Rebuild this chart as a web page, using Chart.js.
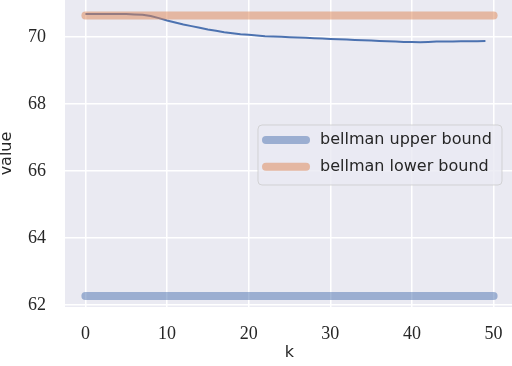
<!DOCTYPE html>
<html>
<head>
<meta charset="utf-8">
<script src="https://cdn.jsdelivr.net/npm/chart.js@4"></script>
<style>
  html, body { margin: 0; padding: 0; background: #fff; overflow: hidden; }
  #wrap { width: 514px; height: 366px; }
</style>
</head>
<body>
<div id="wrap"><canvas id="chart"></canvas></div>
<script>
// values
const kValues = [0, 1, 2, 3, 4, 5, 6, 7, 8, 9, 10, 11, 12, 13, 14, 15, 16, 17, 18, 19,
  20, 21, 22, 23, 24, 25, 26, 27, 28, 29, 30, 31, 32, 33, 34, 35, 36, 37, 38, 39,
  40, 41, 42, 43, 44, 45, 46, 47, 48, 49];
const valueCurve = [70.68, 70.68, 70.68, 70.68, 70.68, 70.68, 70.67, 70.66, 70.62, 70.56,
  70.49, 70.43, 70.37, 70.32, 70.27, 70.22, 70.18, 70.14, 70.11, 70.08,
  70.06, 70.04, 70.02, 70.01, 70.00, 69.99, 69.98, 69.97, 69.96, 69.95,
  69.94, 69.93, 69.92, 69.91, 69.90, 69.89, 69.88, 69.87, 69.86, 69.85,
  69.85, 69.84, 69.85, 69.86, 69.86, 69.86, 69.87, 69.87, 69.87, 69.88];
const boundK = [0, 50];
const upperBound = 62.27;
const lowerBound = 70.64;
const boundLabels = ['bellman upper bound', 'bellman lower bound'];
const xTicks = [0, 10, 20, 30, 40, 50];
const yTicks = [62, 64, 66, 68, 70];

const BLUE = '#4C72B0';
const BLUE_BAND = 'rgba(76,114,176,0.5)';
const ORANGE_BAND = 'rgba(221,132,82,0.5)';
const TEXT = '#262626';
const SANS = '"DejaVu Sans", sans-serif';
const SERIF = '"Liberation Serif", serif';

// seaborn-like grey plot background
const plotBackground = {
  id: 'plotBackground',
  beforeDraw(chart) {
    const { ctx, chartArea: a } = chart;
    ctx.save();
    ctx.fillStyle = '#EAEAF2';
    ctx.fillRect(a.left, a.top, a.right - a.left, a.bottom - a.top);
    ctx.restore();
  }
};

// matplotlib style legend box inside the axes
const boxLegend = {
  id: 'boxLegend',
  afterDraw(chart) {
    const { ctx } = chart;
    const x0 = 258, y0 = 125, w = 244, h = 60;
    ctx.save();
    ctx.beginPath();
    ctx.roundRect(x0, y0, w, h, 4);
    ctx.fillStyle = 'rgba(234,234,242,0.8)';
    ctx.fill();
    ctx.lineWidth = 1;
    ctx.strokeStyle = 'rgba(204,204,204,0.8)';
    ctx.stroke();

    const rows = [0, 1].map(i => chart.data.datasets[i]);
    rows.forEach((ds, i) => {
      const cy = 140 + i * 26.7;
      ctx.beginPath();
      ctx.lineCap = 'round';
      ctx.lineWidth = 8;
      ctx.strokeStyle = ds.borderColor;
      ctx.moveTo(266, cy);
      ctx.lineTo(306, cy);
      ctx.stroke();
      ctx.fillStyle = TEXT;
      ctx.font = '16px ' + SANS;
      ctx.textBaseline = 'middle';
      ctx.textAlign = 'left';
      ctx.fillText(ds.label, 320, cy);
    });
    ctx.restore();
  }
};

// no automatic label overhang padding, the axes fill the frame like matplotlib
function noPadding(scale) {
  scale.paddingTop = 0;
  scale.paddingBottom = 0;
  scale.paddingLeft = 0;
  scale.paddingRight = 0;
}

const boundPoints = v => boundK.map(k => ({ x: k, y: v }));

new Chart(document.getElementById('chart'), {
  type: 'line',
  data: {
    datasets: [
      {
        label: boundLabels[0],
        data: boundPoints(upperBound),
        borderColor: BLUE_BAND,
        borderWidth: 8,
        borderCapStyle: 'round',
        pointRadius: 0
      },
      {
        label: boundLabels[1],
        data: boundPoints(lowerBound),
        borderColor: ORANGE_BAND,
        borderWidth: 8,
        borderCapStyle: 'round',
        pointRadius: 0
      },
      {
        label: 'value',
        data: kValues.map((k, i) => ({ x: k, y: valueCurve[i] })),
        borderColor: BLUE,
        borderWidth: 2,
        pointRadius: 0,
        tension: 0
      }
    ]
  },
  options: {
    responsive: true,
    maintainAspectRatio: false,
    animation: false,
    layout: { padding: 0 },
    plugins: {
      legend: { display: false },
      tooltip: { enabled: false }
    },
    scales: {
      x: {
        type: 'linear',
        min: -2.5,
        max: 52.5,
        afterBuildTicks(scale) { scale.ticks = xTicks.map(v => ({ value: v })); },
        afterFit(scale) { scale.height = 59; noPadding(scale); },
        grid: { color: '#ffffff', lineWidth: 1.5, drawTicks: false },
        border: { display: false },
        ticks: {
          color: TEXT,
          padding: 16,
          maxRotation: 0,
          font: { family: SERIF, size: 18 }
        },
        title: {
          display: true,
          text: 'k',
          color: TEXT,
          font: { family: SANS, size: 16 },
          padding: { top: 0, bottom: 4 }
        }
      },
      y: {
        type: 'linear',
        min: 61.94,
        max: 71.1,
        afterBuildTicks(scale) { scale.ticks = yTicks.map(v => ({ value: v })); },
        afterFit(scale) { scale.width = 65; noPadding(scale); },
        grid: { color: '#ffffff', lineWidth: 1.5, drawTicks: false },
        border: { display: false },
        ticks: {
          color: TEXT,
          padding: 19,
          font: { family: SERIF, size: 18 }
        },
        title: {
          display: true,
          text: 'value',
          color: TEXT,
          font: { family: SANS, size: 16, lineHeight: 1 },
          padding: { top: -1, bottom: 0 }
        }
      }
    }
  },
  plugins: [plotBackground, boxLegend]
});
</script>
</body>
</html>
